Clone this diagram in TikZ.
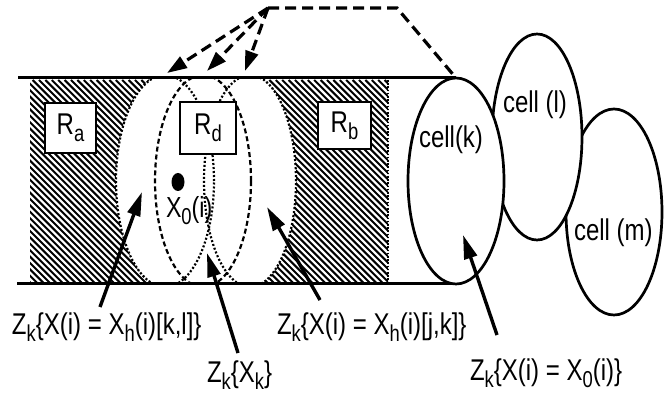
\documentclass[tikz,border=0pt]{standalone}
\usepackage{fontspec}
\setmainfont[FakeStretch=0.8]{Liberation Sans}
\usetikzlibrary{arrows.meta,shapes.geometric}
\newcommand\lowsub[1]{\raisebox{-7pt}{\fontsize{23}{23}\selectfont #1}}
\begin{document}
\begin{tikzpicture}[x=1pt,y=-1pt,
  lbl/.style={font=\fontsize{30}{32}\selectfont, inner sep=0pt, outer sep=0pt},
  hatchline/.style={line width=2pt},
  dotell/.style={line width=2.2pt, dash pattern=on 2pt off 2pt},
  dashell/.style={line width=2.2pt, dash pattern=on 5pt off 3pt},
  rbox/.style={draw, fill=white, line width=2.5pt, inner sep=0pt, outer sep=0pt, font=\fontsize{30}{32}\selectfont},
  cellshape/.style={ellipse, draw, fill=white, line width=2.7pt, inner sep=0pt, outer sep=0pt},
  tube/.style={line width=3pt},
  dashline/.style={line width=3.2pt, dash pattern=on 11pt off 6pt},
  dasharrow/.style={line width=3.2pt, dash pattern=on 11pt off 6pt, -{Triangle[length=20pt,width=13pt]}},
  solidarrow/.style={line width=3.4pt, -{Triangle[length=24pt,width=13pt]}}
]
\useasboundingbox (0,0) rectangle (667,395);
% hatching
\begin{scope}
  \clip (30,80) rectangle (388,283);
  \foreach \i in {-185,-178.6,...,395} \draw[hatchline] (\i,80) -- ++(210,210);
\end{scope}
% white region (three positions of the cell)
\begin{scope}
  \clip (0,79) rectangle (667,284);
  \fill[white] (165,181) ellipse [x radius=49pt, y radius=106pt];
  \fill[white] (203,181) ellipse [x radius=48pt, y radius=106pt];
  \fill[white] (250,181) ellipse [x radius=46pt, y radius=106pt];
  \fill[white] (160,79) rectangle (262,88);
  \fill[white] (160,275) rectangle (258,284);
\end{scope}
\begin{scope}
  \clip (0,80) rectangle (667,283);
  \draw[dotell] (165,181) ellipse [x radius=49pt, y radius=106pt];
  \draw[dashell] (203,181) ellipse [x radius=48pt, y radius=106pt];
  \draw[dotell] (250,181) ellipse [x radius=46pt, y radius=106pt];
\end{scope}
\coordinate (hb1) at (388,80);
\coordinate (hb2) at (388,283);
\draw[line width=1.8pt, dash pattern=on 1.6pt off 1.6pt] (hb1) -- (hb2);
% tube lines
\node[cellshape, minimum width=96pt, minimum height=206pt, fill=none, draw=none] (cellkpos) at (456,181) {};
\coordinate (tl) at (18,78);
\coordinate (bl) at (17,284);
\draw[tube] (tl) -- (cellkpos.north);
\draw[tube] (bl) -- (cellkpos.south);
% boxes
\node[rbox, minimum width=51pt, minimum height=50pt] (ra) at (70.5,128) {R\lowsub{a}};
\node[rbox, minimum width=56pt, minimum height=52pt] (rd) at (208,128) {R\lowsub{d}};
\node[rbox, minimum width=53pt, minimum height=47pt] (rb) at (344.5,125.5) {R\lowsub{b}};
% point
\node[ellipse, fill=black, minimum width=13pt, minimum height=18pt, inner sep=0pt] (dot) at (178,182) {};
\node[lbl, anchor=base west, font=\fontsize{29}{30}\selectfont] (x0) at (166,218) {X\lowsub{0}(i)};
% cells
\node[cellshape, minimum width=96pt, minimum height=206pt] (cellm) at (614,212) {};
\node[cellshape, minimum width=90pt, minimum height=206pt] (celll) at (537,137) {};
\node[cellshape, minimum width=96pt, minimum height=206pt] (cellk) at (456,181) {};
\node[lbl, anchor=base west] (tk) at (419,148) {cell(k)};
\node[lbl, anchor=base west] (tl2) at (503,113) {cell (l)};
\node[lbl, anchor=base west] (tm) at (574,241) {cell (m)};
% dashed arrows from the top
\coordinate (src) at (268,8);
\coordinate (bend) at (397,8);
\coordinate (t1) at (167,73);
\coordinate (t2) at (207,71);
\coordinate (t3) at (245,71);
\draw[dashline] (src) -- (bend) -- (cellk.north);
\draw[dasharrow] (src) -- (t1);
\draw[dasharrow] (src) -- (t2);
\draw[dasharrow] (src) -- (t3);
% labels
\node[lbl, anchor=base west] (lab1) at (12,335) {Z\lowsub{k}\{X(i) = X\lowsub{h}(i)[k,l]\}};
\node[lbl, anchor=base west] (lab2) at (207,382) {Z\lowsub{k}\{X\lowsub{k}\}};
\node[lbl, anchor=base west] (lab3) at (277,335) {Z\lowsub{k}\{X(i) = X\lowsub{h}(i)[j,k]\}};
\node[lbl, anchor=base west] (lab4) at (470,381) {Z\lowsub{k}\{X(i) = X\lowsub{0}(i)\}};
% solid arrows
\coordinate (a1s) at (100,307);
\coordinate (a1e) at (142,192);
\coordinate (a2s) at (238,353);
\coordinate (a2e) at (207,253);
\coordinate (a3s) at (320,300);
\coordinate (a3e) at (267,207);
\coordinate (a4s) at (497,335);
\coordinate (a4e) at (463,235);
\draw[solidarrow] (a1s) -- (a1e);
\draw[solidarrow] (a2s) -- (a2e);
\draw[solidarrow] (a3s) -- (a3e);
\draw[solidarrow] (a4s) -- (a4e);
\end{tikzpicture}
\end{document}
